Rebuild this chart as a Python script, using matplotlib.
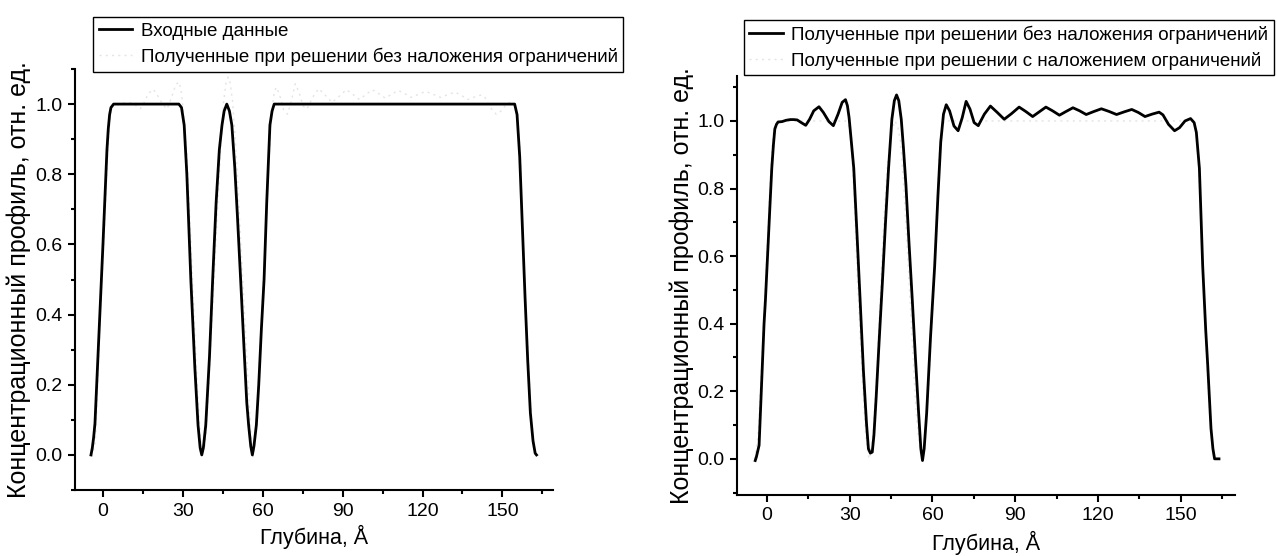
import matplotlib
matplotlib.use("Agg")
import matplotlib.pyplot as plt
from matplotlib.ticker import MultipleLocator

plt.rcParams['font.family'] = ['Liberation Sans', 'DejaVu Sans']

# input profile (left, solid)
depth_in = [-4.5, -4, -3.5, -3, -2, -1, 0, 1, 1.5, 2, 2.5, 3, 4,
            28.5, 29.5, 30.5, 31.5, 33, 34.5, 35.7, 36.5, 37.1, 37.7, 38.6, 40, 41.2,
            42.5, 43.7, 44.7, 45.5, 46.5, 47.5, 48.4, 49.5, 50.5, 51.7, 53, 54, 54.7,
            55.5, 56.1, 56.7, 57.6, 58.5, 59.5, 60.5, 61.5, 62.7, 63.5, 64.3,
            154.6, 155.5, 156.5, 157.5, 158.5, 159.5, 160.5, 161.5, 162.3, 162.8]
conc_in = [0.0, 0.02, 0.05, 0.09, 0.26, 0.43, 0.6, 0.78, 0.87, 0.93, 0.97, 0.99, 1.0,
           1.0, 0.99, 0.94, 0.8, 0.5, 0.25, 0.085, 0.02, 0.0, 0.02, 0.085, 0.28, 0.5,
           0.72, 0.87, 0.94, 0.98, 1.0, 0.98, 0.94, 0.82, 0.68, 0.5, 0.3, 0.15, 0.085,
           0.025, 0.0, 0.025, 0.085, 0.2, 0.36, 0.5, 0.72, 0.94, 0.98, 1.0,
           1.0, 0.97, 0.85, 0.65, 0.45, 0.27, 0.12, 0.04, 0.005, 0.0]

# solution without constraints
depth_free = [-4.2, -3.8, -2.8, -2, -1, -0.5, 0.5, 1.2, 1.8, 2.4, 2.9, 3.5, 4.1, 5.5, 7,
              8.5, 9.8, 11, 12.5, 14.1, 15.5, 17, 18.9, 20.5, 22.5, 24.1, 25.8, 27.3,
              28.5, 29.2, 29.8, 30.6, 31.5, 32.7, 33.8, 35, 36.1, 36.8, 37.5, 38.2,
              38.8, 39.6, 40.7, 41.85, 43, 44.1, 45.3, 46.2, 47.0, 47.8, 48.7, 49.5,
              50.4, 51.5, 52.7, 53.9, 55.0, 55.8, 56.4, 57.0, 57.9, 59.3, 60.8, 62.0,
              63.0, 64.0, 65.0, 66.2, 67.8, 69.3, 70.8, 72.2, 73.6, 75.1, 76.6, 78.8,
              81.0, 83.5, 86.0, 88.7, 91.4, 93.8, 96.3, 98.7, 101.1, 103.5, 106, 108.4,
              110.9, 113.3, 115.7, 118.5, 121.2, 124, 126.7, 129.5, 132.2, 134.6, 137,
              139.5, 142.1, 143.5, 145.5, 147.7, 149.5, 151.5, 153.5, 154.8, 155.6,
              156.7, 157.9, 159.0, 159.7, 160.9, 161.6, 162.2, 163.8]
conc_free = [-0.005, 0.005, 0.04, 0.2, 0.4, 0.47, 0.64, 0.76, 0.86, 0.93, 0.976, 0.99,
             0.997, 0.998, 1.002, 1.004, 1.004, 1.003, 0.995, 0.987, 1.005, 1.03, 1.042,
             1.025, 0.998, 0.986, 1.02, 1.055, 1.063, 1.045, 1.01, 0.94, 0.86, 0.66,
             0.47, 0.26, 0.106, 0.03, 0.017, 0.02, 0.07, 0.18, 0.35, 0.52, 0.7, 0.86,
             1.005, 1.06, 1.077, 1.06, 1.005, 0.92, 0.81, 0.64, 0.47, 0.29, 0.135, 0.03,
             -0.005, 0.03, 0.135, 0.36, 0.57, 0.78, 0.937, 1.02, 1.048, 1.03, 0.985,
             0.971, 1.01, 1.058, 1.035, 0.995, 0.986, 1.02, 1.044, 1.025, 1.005, 1.022,
             1.041, 1.028, 1.013, 1.027, 1.041, 1.03, 1.017, 1.028, 1.039, 1.03, 1.019,
             1.028, 1.036, 1.028, 1.019, 1.027, 1.034, 1.025, 1.013, 1.02, 1.026, 1.018,
             0.99, 0.971, 0.98, 1.0, 1.007, 0.995, 0.966, 0.86, 0.57, 0.38, 0.28, 0.09,
             0.03, 0.0, 0.0]

# solution with constraints (follows the input profile)
depth_con = depth_in
conc_con = conc_in

xticks = [0, 30, 60, 90, 120, 150]
xlabel = 'Глубина, Å'
ylabel = 'Концентрационный профиль, отн. ед.'
lab_in = 'Входные данные'
lab_free = 'Полученные при решении без наложения ограничений'
lab_con = 'Полученные при решении с наложением ограничений'

W, H = 1277, 556
fig = plt.figure(figsize=(W/100, H/100), dpi=100)

ax1 = fig.add_axes([75/W, 1-490/H, (553-75)/W, (490-69)/H])
ax2 = fig.add_axes([737/W, 1-495/H, (1235-737)/W, (495-76)/H])

faint = '#e4e4e4'
ax1.plot(depth_in, conc_in, color='black', lw=2, label=lab_in, zorder=3)
ax1.plot(depth_free, conc_free, color=faint, lw=1, ls=(0, (1.5, 3)), label=lab_free, zorder=2)
ax2.plot(depth_free, conc_free, color='black', lw=2, label=lab_free, zorder=3)
ax2.plot(depth_con, conc_con, color=faint, lw=1, ls=(0, (1.5, 3)), label=lab_con, zorder=2)

ax1.set_xlim(-10.5, 169)
ax1.set_ylim(-0.1, 1.1)
ax2.set_xlim(-10.8, 169.6)
ax2.set_ylim(-0.107, 1.133)

for ax in (ax1, ax2):
    ax.spines['top'].set_visible(False)
    ax.spines['right'].set_visible(False)
    ax.spines['left'].set_linewidth(1.5)
    ax.spines['bottom'].set_linewidth(1.5)
    ax.set_xticks(xticks)
    ax.xaxis.set_minor_locator(MultipleLocator(15))
    ax.set_yticks([0.0, 0.2, 0.4, 0.6, 0.8, 1.0])
    ax.yaxis.set_minor_locator(MultipleLocator(0.1))
    ax.set_yticklabels(['0.0', '0.2', '0.4', '0.6', '0.8', '1.0'])
    ax.tick_params(which='major', direction='out', length=5, width=1.5, labelsize=14, pad=4)
    ax.tick_params(which='minor', direction='out', length=3, width=1.5)
    ax.set_ylabel(ylabel, fontsize=18)

# y-label positions in pixels, converted to axes coordinates
ax1.yaxis.set_label_coords((31-75)/478, 0.5)
ax2.yaxis.set_label_coords((694-737)/498, 0.5)

ax1.set_xlabel(xlabel, fontsize=15.5, labelpad=4)
ax2.set_xlabel(xlabel, fontsize=15.5, labelpad=4.5)

legend_kw = dict(borderaxespad=0, fancybox=False, framealpha=1, edgecolor='black',
                 prop={'size': 13.5}, handlelength=1.8, handletextpad=0.45,
                 borderpad=0.3, labelspacing=0.42, bbox_transform=fig.transFigure)
leg1 = ax1.legend(loc='upper left', bbox_to_anchor=(93/W, 1-17/H), **legend_kw)
leg2 = ax2.legend(loc='upper right', bbox_to_anchor=(1274/W, 1-20/H), **legend_kw)
for leg in (leg1, leg2):
    leg.get_frame().set_linewidth(1)
    leg.set_zorder(5)

fig.savefig('out.png', dpi=100)
